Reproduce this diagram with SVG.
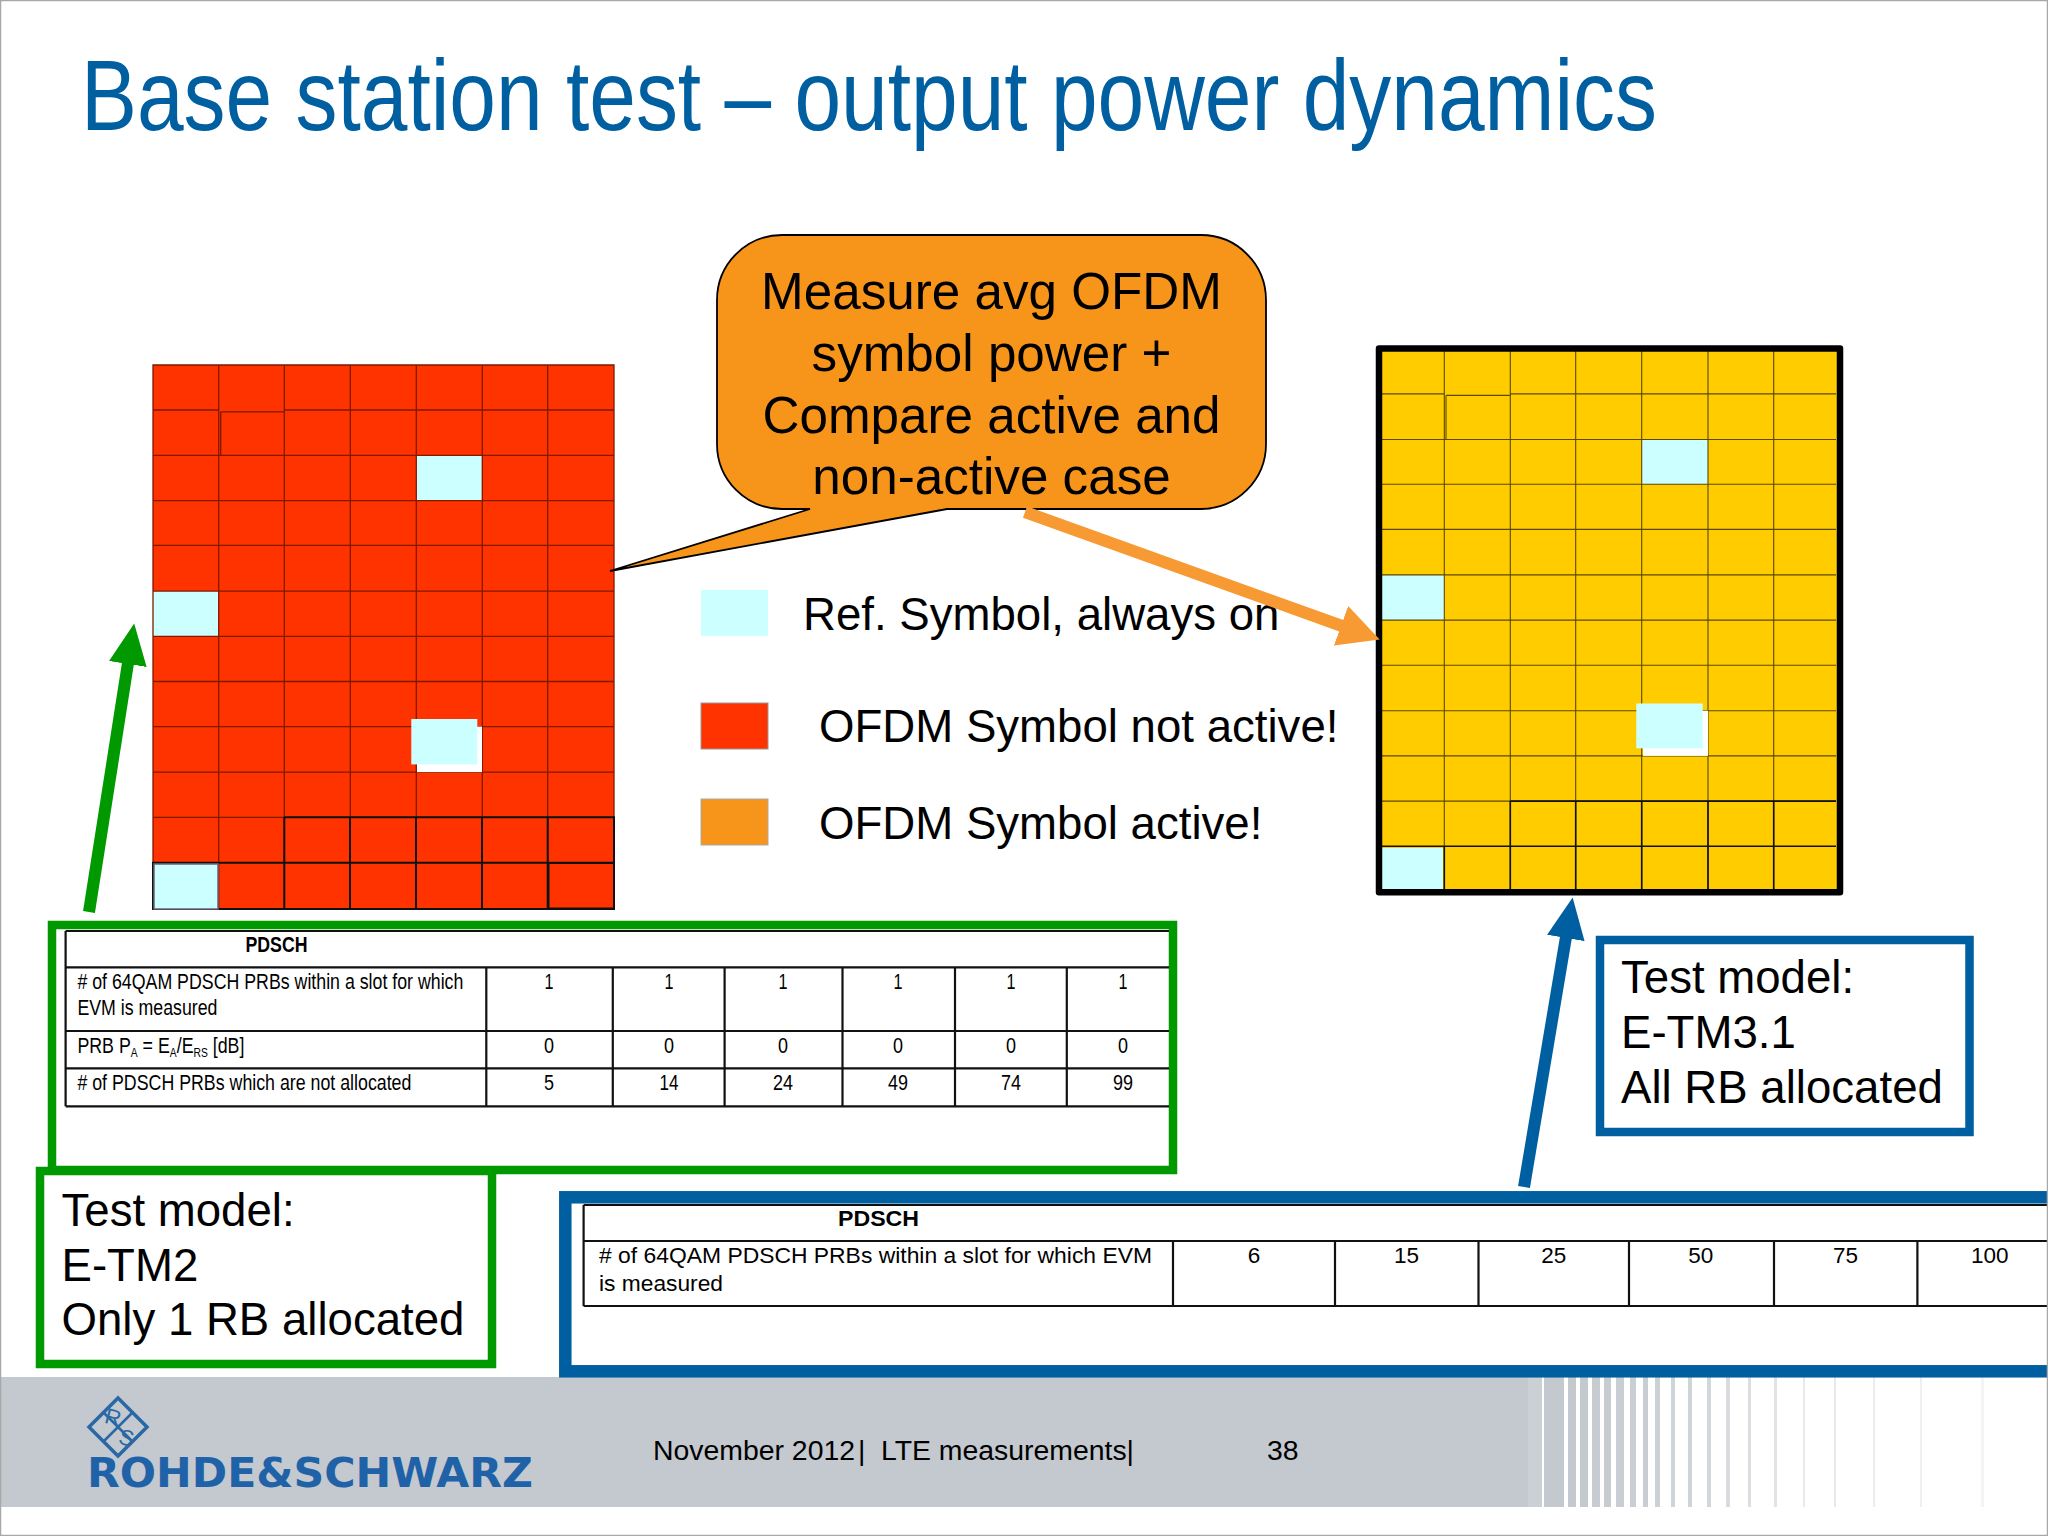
<svg xmlns="http://www.w3.org/2000/svg" width="2048" height="1536" viewBox="0 0 2048 1536">
<style>
text{font-family:"Liberation Sans",Arial,sans-serif;fill:#000}
.title{font-size:100px;fill:#005fa0}
.big{font-size:45.600px}
.call{font-size:51.200px;text-anchor:middle}
.t{font-size:22.500px}
.n{font-size:22.500px;text-anchor:middle}
.b{font-weight:bold;font-size:22.500px}
.foot{font-size:28.400px}
.sub{font-size:13px}
.cy{fill:#ccffff}
.rl{fill:none;stroke:#7e1a00;stroke-width:1.300}
.yl{fill:none;stroke:#5c4800;stroke-width:1.100}
.bk{fill:none;stroke:#111;stroke-width:2}
.tb{fill:none;stroke:#111;stroke-width:2.200}
.arrow{fill:none;stroke-width:12}
.st{fill:#c3c9cf}
</style>
<defs>
<marker id="hg" markerUnits="userSpaceOnUse" markerWidth="42" markerHeight="40" refX="1" refY="20" orient="auto"><path d="M0 1L41 20L0 39z" fill="#009900"/></marker>
<marker id="ho" markerUnits="userSpaceOnUse" markerWidth="42" markerHeight="44" refX="1" refY="22" orient="auto"><path d="M0 1L41 22L0 43z" fill="#f79a34"/></marker>
<marker id="hb" markerUnits="userSpaceOnUse" markerWidth="42" markerHeight="40" refX="1" refY="20" orient="auto"><path d="M0 1L41 20L0 39z" fill="#005fa0"/></marker>
</defs>
<rect width="2048" height="1536" fill="#fff"/>
<g id="footer">
<rect x="0" y="1377" width="1528" height="130" fill="#c3c9ce"/>
<rect x="1528" y="1377" width="14" height="130" fill="#cbd0d4"/>
<g class="st">
<rect x="1544" y="1377" width="20" height="130"/>
<rect x="1568" y="1377" width="8" height="130"/>
<rect x="1580" y="1377" width="8" height="130"/>
<rect x="1592" y="1377" width="8" height="130" opacity=".95"/>
<rect x="1604" y="1377" width="7" height="130" opacity=".95"/>
<rect x="1616" y="1377" width="8" height="130" opacity=".9"/>
<rect x="1630" y="1377" width="6" height="130" opacity=".9"/>
<rect x="1643" y="1377" width="5" height="130" opacity=".9"/>
<rect x="1655" y="1377" width="5" height="130" opacity=".85"/>
<rect x="1671" y="1377" width="4" height="130" opacity=".8"/>
<rect x="1688" y="1377" width="4" height="130" opacity=".8"/>
<rect x="1707" y="1377" width="4" height="130" opacity=".75"/>
<rect x="1726" y="1377" width="4" height="130" opacity=".65"/>
<rect x="1748" y="1377" width="3" height="130" opacity=".6"/>
<rect x="1774" y="1377" width="3" height="130" opacity=".5"/>
<rect x="1803" y="1377" width="2" height="130" opacity=".4"/>
<rect x="1834" y="1377" width="2" height="130" opacity=".4"/>
<rect x="1873" y="1377" width="2" height="130" opacity=".35"/>
<rect x="1920" y="1377" width="2" height="130" opacity=".3"/>
<rect x="1981" y="1377" width="3" height="130" opacity=".2"/>
</g>
<text class="foot" x="653" y="1460">November 2012<tspan x="858">|</tspan><tspan x="881">LTE measurements|</tspan></text>
<text class="foot" x="1267" y="1460">38</text>
</g>
<g id="logo">
<path d="M118 1398L147 1427L118 1456L89 1427z" fill="none" stroke="#2a68a5" stroke-width="3.500"/>
<path d="M103.500 1412.500L132.500 1441.500M132.500 1412.500L103.500 1441.500" fill="none" stroke="#2a68a5" stroke-width="2.500"/>
<text x="105" y="1424" style="font-size:22px;fill:#2a68a5" transform="rotate(15 110 1418)">R</text>
<text x="119" y="1445" style="font-size:22px;fill:#2a68a5" transform="rotate(15 125 1438)">S</text>
<text x="87" y="1487" textLength="446" lengthAdjust="spacingAndGlyphs" style="font-family:'DejaVu Sans',sans-serif;font-size:41px;font-weight:bold;fill:#1f62a8">ROHDE&amp;SCHWARZ</text>
</g>
<text id="title" class="title" x="81" y="130" textLength="1576" lengthAdjust="spacingAndGlyphs">Base station test – output power dynamics</text>
<g id="grid-red">
<rect x="153" y="365" width="461" height="544" fill="#ff3300"/>
<rect class="cy" x="416" y="455.400" width="66" height="45"/>
<rect class="cy" x="153" y="591" width="65.500" height="45"/>
<path class="rl" d="M153 365H614V909H153zM218.700 365V410M220.700 411.800V455.400M218.700 455.400V909M284.300 365V909M350.300 365V909M416.300 365V909M482.300 365V909M547.700 365V909M153 410H218.700V455.400M220.700 411.800H284.300M284.300 410H614M153 455.400H614M153 500.600H614M153 545.300H614M153 591.200H614M153 636.300H614M153 681.500H614M153 726.600H614M153 772.100H614M153 817.300H614"/>
<path class="bk" d="M284.300 817.300H614V909H153V862.800H614M284.300 817.300V909M350 817.300V909M416 817.300V909M482 817.300V909M547.700 817.300V909"/>
<rect class="cy" x="154" y="864" width="64" height="45" stroke="#667" stroke-width="1.500"/>
<rect x="548.500" y="863" width="65.500" height="45.500" fill="none" stroke="#111" stroke-width="2"/>
<rect x="417" y="726.600" width="65" height="45.500" fill="#fff"/>
<rect class="cy" x="411.300" y="719" width="66" height="45.400"/>
</g>
<g id="grid-yellow">
<rect x="1379" y="348.500" width="461" height="544" fill="#ffcc00"/>
<rect class="cy" x="1641.700" y="439.500" width="66.300" height="44.700"/>
<rect class="cy" x="1382" y="574.900" width="62.300" height="45.200"/>
<path class="yl" d="M1444.300 351V394M1446 395.400V439.500M1444.300 439.500V889M1510.300 351V889M1575.700 351V889M1641.700 351V889M1708 351V889M1773.700 351V889M1382 393.900H1444.300V439.500M1446 395.400H1510.300M1510.300 393.900H1836M1382 439.500H1836M1382 484.200H1836M1382 529.400H1836M1382 574.900H1836M1382 620.100H1836M1382 665.200H1836M1382 710.800H1836M1382 755.900H1836M1382 801.100H1836"/>
<path class="bk" style="stroke-width:1.600" d="M1510.300 801.100H1836M1382 846.300H1836M1510.300 801.100V889M1575.700 801.100V889M1641.700 801.100V889M1708 801.100V889M1773.700 801.100V889M1444.300 846.300V889"/>
<rect class="cy" x="1382" y="848" width="61" height="41.500"/>
<rect x="1643" y="710.800" width="65" height="45.100" fill="#fff"/>
<rect class="cy" x="1636.300" y="703.500" width="66.400" height="44.800"/>
<rect x="1379" y="348.500" width="461" height="543.700" fill="none" stroke="#000" stroke-width="6.500" stroke-linejoin="round"/>
</g>
<g id="callout">
<path d="M782 235H1201A65 65 0 0 1 1266 300V444A65 65 0 0 1 1201 509H947L610 571L810 509H782A65 65 0 0 1 717 444V300A65 65 0 0 1 782 235z" fill="#f7941a" stroke="#000" stroke-width="1.800"/>
<text class="call" x="991.500" y="309">Measure avg OFDM</text>
<text class="call" x="991.500" y="371">symbol power +</text>
<text class="call" x="991.500" y="433">Compare active and</text>
<text class="call" x="991.500" y="494">non-active case</text>
</g>
<g id="legend">
<rect class="cy" x="701" y="590" width="67" height="46"/>
<text class="big" x="803" y="630">Ref. Symbol, always on</text>
<rect x="701" y="703" width="67" height="46" fill="#ff3300" stroke="#999" stroke-width="1"/>
<text class="big" x="819" y="742">OFDM Symbol not active!</text>
<rect x="701" y="799" width="67" height="46" fill="#f7941a" stroke="#aaa" stroke-width="1"/>
<text class="big" x="819" y="838.500">OFDM Symbol active!</text>
</g>
<g id="box-etm2-table">
<rect x="52" y="925" width="1121" height="245" fill="#fff" stroke="#009900" stroke-width="8.500"/>
<path class="tb" d="M65.600 931H1169M65.600 967.300H1169M65.600 1031H1169M65.600 1068.300H1169M65.600 1106.300H1169M65.600 931V1106.300M486.300 967.300V1106.300M612.800 967.300V1106.300M724.600 967.300V1106.300M842.500 967.300V1106.300M955 967.300V1106.300M1066.800 967.300V1106.300"/>
<text class="b" x="245.500" y="952" textLength="62" lengthAdjust="spacingAndGlyphs">PDSCH</text>
<text class="t" x="77.400" y="989" textLength="386" lengthAdjust="spacingAndGlyphs"># of 64QAM PDSCH PRBs within a slot for which</text>
<text class="t" x="77.400" y="1015" textLength="140" lengthAdjust="spacingAndGlyphs">EVM is measured</text>
<text class="t" x="77.400" y="1053" textLength="167" lengthAdjust="spacingAndGlyphs">PRB P<tspan class="sub" dy="4">A</tspan><tspan dy="-4"> = E</tspan><tspan class="sub" dy="4">A</tspan><tspan dy="-4">/E</tspan><tspan class="sub" dy="4">RS</tspan><tspan dy="-4"> [dB]</tspan></text>
<text class="t" x="77.400" y="1090" textLength="334" lengthAdjust="spacingAndGlyphs"># of PDSCH PRBs which are not allocated</text>
<g class="num">
<text class="n" x="549" y="989" textLength="9" lengthAdjust="spacingAndGlyphs">1</text><text class="n" x="669" y="989" textLength="9" lengthAdjust="spacingAndGlyphs">1</text><text class="n" x="783" y="989" textLength="9" lengthAdjust="spacingAndGlyphs">1</text><text class="n" x="898" y="989" textLength="9" lengthAdjust="spacingAndGlyphs">1</text><text class="n" x="1011" y="989" textLength="9" lengthAdjust="spacingAndGlyphs">1</text><text class="n" x="1123" y="989" textLength="9" lengthAdjust="spacingAndGlyphs">1</text>
<text class="n" x="549" y="1053" textLength="10" lengthAdjust="spacingAndGlyphs">0</text><text class="n" x="669" y="1053" textLength="10" lengthAdjust="spacingAndGlyphs">0</text><text class="n" x="783" y="1053" textLength="10" lengthAdjust="spacingAndGlyphs">0</text><text class="n" x="898" y="1053" textLength="10" lengthAdjust="spacingAndGlyphs">0</text><text class="n" x="1011" y="1053" textLength="10" lengthAdjust="spacingAndGlyphs">0</text><text class="n" x="1123" y="1053" textLength="10" lengthAdjust="spacingAndGlyphs">0</text>
<text class="n" x="549" y="1090" textLength="10" lengthAdjust="spacingAndGlyphs">5</text><text class="n" x="669" y="1090" textLength="19" lengthAdjust="spacingAndGlyphs">14</text><text class="n" x="783" y="1090" textLength="20" lengthAdjust="spacingAndGlyphs">24</text><text class="n" x="898" y="1090" textLength="20" lengthAdjust="spacingAndGlyphs">49</text><text class="n" x="1011" y="1090" textLength="20" lengthAdjust="spacingAndGlyphs">74</text><text class="n" x="1123" y="1090" textLength="20" lengthAdjust="spacingAndGlyphs">99</text>
</g>
</g>
<g id="box-etm2">
<rect x="40" y="1171" width="452" height="193" fill="#fff" stroke="#009900" stroke-width="8.500"/>
<text class="big" x="61.500" y="1226">Test model:</text>
<text class="big" x="61.500" y="1281">E-TM2</text>
<text class="big" x="61.500" y="1335">Only 1 RB allocated</text>
</g>
<g id="box-etm31-table">
<rect x="565.300" y="1197.300" width="1600" height="174" fill="#fff" stroke="#005fa0" stroke-width="12.500"/>
<path class="tb" d="M583.600 1205H2048M583.600 1241H2048M583.600 1306H2048M583.600 1205V1306M1173 1241V1306M1335 1241V1306M1478.500 1241V1306M1629 1241V1306M1774 1241V1306M1917.400 1241V1306"/>
<text class="b" x="838" y="1226" textLength="81" lengthAdjust="spacingAndGlyphs">PDSCH</text>
<text class="t" x="599" y="1263" textLength="553" lengthAdjust="spacingAndGlyphs"># of 64QAM PDSCH PRBs within a slot for which EVM</text>
<text class="t" x="599" y="1291" textLength="124" lengthAdjust="spacingAndGlyphs">is measured</text>
<text class="n" x="1254" y="1263">6</text><text class="n" x="1406.600" y="1263">15</text><text class="n" x="1553.700" y="1263">25</text><text class="n" x="1700.800" y="1263">50</text><text class="n" x="1845.500" y="1263">75</text><text class="n" x="1989.700" y="1263">100</text>
</g>
<g id="box-etm31">
<rect x="1600" y="940" width="369.500" height="192" fill="#fff" stroke="#005fa0" stroke-width="8.500"/>
<text class="big" x="1621" y="993">Test model:</text>
<text class="big" x="1621" y="1048">E-TM3.1</text>
<text class="big" x="1621" y="1103">All RB allocated</text>
</g>
<g id="connectors">
<line class="arrow" x1="89" y1="912" x2="128" y2="663" stroke="#009900" marker-end="url(#hg)"/>
<line class="arrow" x1="1025" y1="512" x2="1342" y2="626" stroke="#f79a34" stroke-width="13" marker-end="url(#ho)"/>
<line class="arrow" x1="1524" y1="1187" x2="1566" y2="937" stroke="#005fa0" marker-end="url(#hb)"/>
</g>
<rect id="frame" x="0.500" y="0.500" width="2047" height="1535" fill="none" stroke="#a8a8a8" stroke-width="1.500"/>
</svg>
